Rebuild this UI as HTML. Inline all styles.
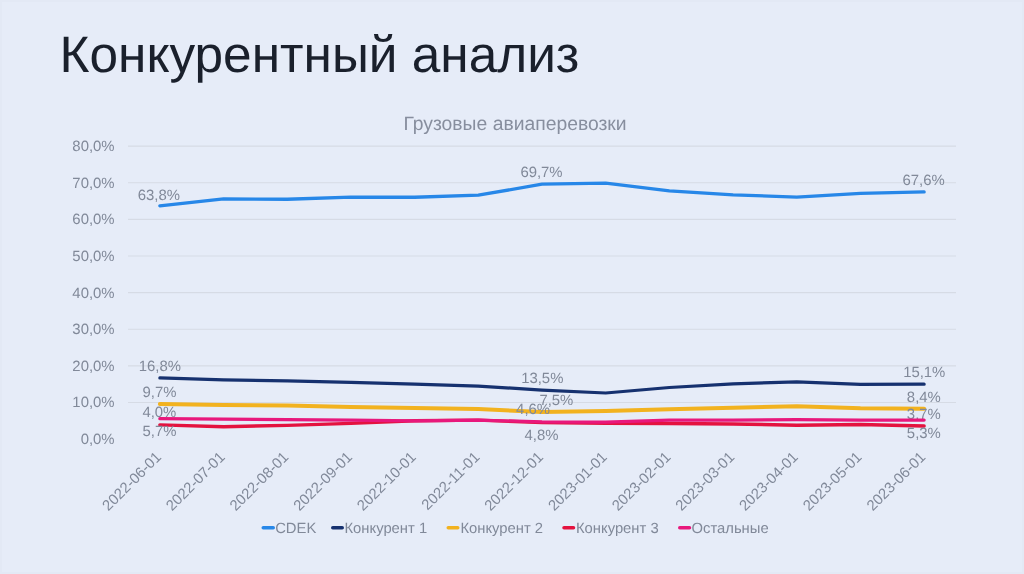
<!DOCTYPE html>
<html lang="ru"><head><meta charset="utf-8"><title>Конкурентный анализ</title>
<style>
html,body{margin:0;padding:0;}
body{width:1024px;height:574px;overflow:hidden;background:#E6ECF8;font-family:"Liberation Sans",sans-serif;}
svg{display:block;position:absolute;left:0;top:0;opacity:0.999;will-change:transform;}
text{font-family:"Liberation Sans",sans-serif;text-rendering:geometricPrecision;}
</style></head><body>
<svg width="1024" height="574" viewBox="0 0 1024 574">
<rect x="0" y="0" width="1024" height="574" fill="#E6ECF8"/>
<rect x="0" y="0" width="1024" height="574" fill="none" stroke="#E3E9F5" stroke-width="4"/>
<text x="59.6" y="72.2" font-size="51.35" fill="#1A202C">Конкурентный анализ</text>
<text x="515" y="129.8" font-size="19.33" fill="#878E9E" text-anchor="middle">Грузовые авиаперевозки</text>
<text x="114.6" y="444.10" font-size="14.9" fill="#818999" text-anchor="end">0,0%</text>
<line x1="128.0" x2="956.0" y1="402.48" y2="402.48" stroke="#D6DBE5" stroke-width="1.2"/>
<text x="114.6" y="407.48" font-size="14.9" fill="#818999" text-anchor="end">10,0%</text>
<line x1="128.0" x2="956.0" y1="365.85" y2="365.85" stroke="#D6DBE5" stroke-width="1.2"/>
<text x="114.6" y="370.85" font-size="14.9" fill="#818999" text-anchor="end">20,0%</text>
<line x1="128.0" x2="956.0" y1="329.23" y2="329.23" stroke="#D6DBE5" stroke-width="1.2"/>
<text x="114.6" y="334.23" font-size="14.9" fill="#818999" text-anchor="end">30,0%</text>
<line x1="128.0" x2="956.0" y1="292.60" y2="292.60" stroke="#D6DBE5" stroke-width="1.2"/>
<text x="114.6" y="297.60" font-size="14.9" fill="#818999" text-anchor="end">40,0%</text>
<line x1="128.0" x2="956.0" y1="255.98" y2="255.98" stroke="#D6DBE5" stroke-width="1.2"/>
<text x="114.6" y="260.98" font-size="14.9" fill="#818999" text-anchor="end">50,0%</text>
<line x1="128.0" x2="956.0" y1="219.35" y2="219.35" stroke="#D6DBE5" stroke-width="1.2"/>
<text x="114.6" y="224.35" font-size="14.9" fill="#818999" text-anchor="end">60,0%</text>
<line x1="128.0" x2="956.0" y1="182.73" y2="182.73" stroke="#D6DBE5" stroke-width="1.2"/>
<text x="114.6" y="187.73" font-size="14.9" fill="#818999" text-anchor="end">70,0%</text>
<line x1="128.0" x2="956.0" y1="146.10" y2="146.10" stroke="#D6DBE5" stroke-width="1.2"/>
<text x="114.6" y="151.10" font-size="14.9" fill="#818999" text-anchor="end">80,0%</text>
<text x="162.05" y="457.90" font-size="14.85" fill="#818999" text-anchor="end" transform="rotate(-45 162.05 457.90)">2022-06-01</text>
<text x="225.74" y="457.90" font-size="14.85" fill="#818999" text-anchor="end" transform="rotate(-45 225.74 457.90)">2022-07-01</text>
<text x="289.43" y="457.90" font-size="14.85" fill="#818999" text-anchor="end" transform="rotate(-45 289.43 457.90)">2022-08-01</text>
<text x="353.12" y="457.90" font-size="14.85" fill="#818999" text-anchor="end" transform="rotate(-45 353.12 457.90)">2022-09-01</text>
<text x="416.82" y="457.90" font-size="14.85" fill="#818999" text-anchor="end" transform="rotate(-45 416.82 457.90)">2022-10-01</text>
<text x="480.51" y="457.90" font-size="14.85" fill="#818999" text-anchor="end" transform="rotate(-45 480.51 457.90)">2022-11-01</text>
<text x="544.20" y="457.90" font-size="14.85" fill="#818999" text-anchor="end" transform="rotate(-45 544.20 457.90)">2022-12-01</text>
<text x="607.89" y="457.90" font-size="14.85" fill="#818999" text-anchor="end" transform="rotate(-45 607.89 457.90)">2023-01-01</text>
<text x="671.58" y="457.90" font-size="14.85" fill="#818999" text-anchor="end" transform="rotate(-45 671.58 457.90)">2023-02-01</text>
<text x="735.28" y="457.90" font-size="14.85" fill="#818999" text-anchor="end" transform="rotate(-45 735.28 457.90)">2023-03-01</text>
<text x="798.97" y="457.90" font-size="14.85" fill="#818999" text-anchor="end" transform="rotate(-45 798.97 457.90)">2023-04-01</text>
<text x="862.66" y="457.90" font-size="14.85" fill="#818999" text-anchor="end" transform="rotate(-45 862.66 457.90)">2023-05-01</text>
<text x="926.35" y="457.90" font-size="14.85" fill="#818999" text-anchor="end" transform="rotate(-45 926.35 457.90)">2023-06-01</text>
<polyline points="159.85,205.83 223.54,198.87 287.23,199.24 350.92,197.04 414.62,197.23 478.31,195.21 542.00,184.22 605.69,183.13 669.38,190.82 733.08,194.85 796.77,197.04 860.46,193.38 924.15,191.92" fill="none" stroke="#2787E8" stroke-width="3.3" stroke-linecap="round" stroke-linejoin="round"/>
<text x="158.85" y="199.90" font-size="14.9" fill="#818999" text-anchor="middle">63,8%</text>
<text x="541.50" y="177.25" font-size="14.9" fill="#818999" text-anchor="middle">69,7%</text>
<text x="923.65" y="184.80" font-size="14.9" fill="#818999" text-anchor="middle">67,6%</text>
<polyline points="159.85,377.97 223.54,379.80 287.23,380.90 350.92,382.37 414.62,384.20 478.31,386.03 542.00,390.06 605.69,392.99 669.38,387.49 733.08,383.83 796.77,381.82 860.46,384.38 924.15,384.20" fill="none" stroke="#16316F" stroke-width="3.2" stroke-linecap="round" stroke-linejoin="round"/>
<text x="159.90" y="371.00" font-size="14.9" fill="#818999" text-anchor="middle">16,8%</text>
<text x="542.30" y="383.00" font-size="14.9" fill="#818999" text-anchor="middle">13,5%</text>
<text x="924.25" y="377.20" font-size="14.9" fill="#818999" text-anchor="middle">15,1%</text>
<polyline points="159.85,403.97 223.54,405.07 287.23,405.62 350.92,407.09 414.62,408.00 478.31,409.10 542.00,412.03 605.69,410.93 669.38,409.28 733.08,407.64 796.77,406.35 860.46,408.37 924.15,408.74" fill="none" stroke="#F2B21F" stroke-width="4.0" stroke-linecap="round" stroke-linejoin="round"/>
<text x="159.50" y="397.00" font-size="14.9" fill="#818999" text-anchor="middle">9,7%</text>
<text x="556.40" y="404.60" font-size="14.9" fill="#818999" text-anchor="middle">7,5%</text>
<text x="923.85" y="401.70" font-size="14.9" fill="#818999" text-anchor="middle">8,4%</text>
<polyline points="159.85,424.85 223.54,426.68 287.23,425.33 350.92,423.38 414.62,420.82 478.31,420.09 542.00,422.65 605.69,423.20 669.38,423.57 733.08,423.93 796.77,425.22 860.46,424.48 924.15,425.95" fill="none" stroke="#E4123F" stroke-width="3.4" stroke-linecap="round" stroke-linejoin="round"/>
<text x="159.40" y="417.40" font-size="14.9" fill="#818999" text-anchor="middle">4,0%</text>
<text x="533.10" y="414.40" font-size="14.9" fill="#818999" text-anchor="middle">4,6%</text>
<text x="923.85" y="418.60" font-size="14.9" fill="#818999" text-anchor="middle">3,7%</text>
<polyline points="159.85,418.62 223.54,419.06 287.23,419.58 350.92,420.09 414.62,420.82 478.31,420.09 542.00,421.92 605.69,422.07 669.38,420.09 733.08,420.09 796.77,419.58 860.46,420.09 924.15,420.09" fill="none" stroke="#E8187C" stroke-width="3.2" stroke-linecap="round" stroke-linejoin="round"/>
<text x="159.50" y="436.20" font-size="14.9" fill="#818999" text-anchor="middle">5,7%</text>
<text x="541.50" y="439.60" font-size="14.9" fill="#818999" text-anchor="middle">4,8%</text>
<text x="923.85" y="438.00" font-size="14.9" fill="#818999" text-anchor="middle">5,3%</text>
<line x1="263.25" x2="273.25" y1="527.75" y2="527.75" stroke="#2787E8" stroke-width="3.5" stroke-linecap="round"/>
<text x="275.2" y="532.6" font-size="14.8" fill="#818999">CDEK</text>
<line x1="332.75" x2="342.25" y1="527.75" y2="527.75" stroke="#16316F" stroke-width="3.5" stroke-linecap="round"/>
<text x="344.5" y="532.6" font-size="14.8" fill="#818999">Конкурент 1</text>
<line x1="448.25" x2="457.75" y1="527.75" y2="527.75" stroke="#F2B21F" stroke-width="3.5" stroke-linecap="round"/>
<text x="460.4" y="532.6" font-size="14.8" fill="#818999">Конкурент 2</text>
<line x1="564.0" x2="573.5" y1="527.75" y2="527.75" stroke="#E4123F" stroke-width="3.5" stroke-linecap="round"/>
<text x="576.0" y="532.6" font-size="14.8" fill="#818999">Конкурент 3</text>
<line x1="679.75" x2="689.5" y1="527.75" y2="527.75" stroke="#E8187C" stroke-width="3.5" stroke-linecap="round"/>
<text x="691.5" y="532.6" font-size="14.8" fill="#818999">Остальные</text>
</svg>
</body></html>
